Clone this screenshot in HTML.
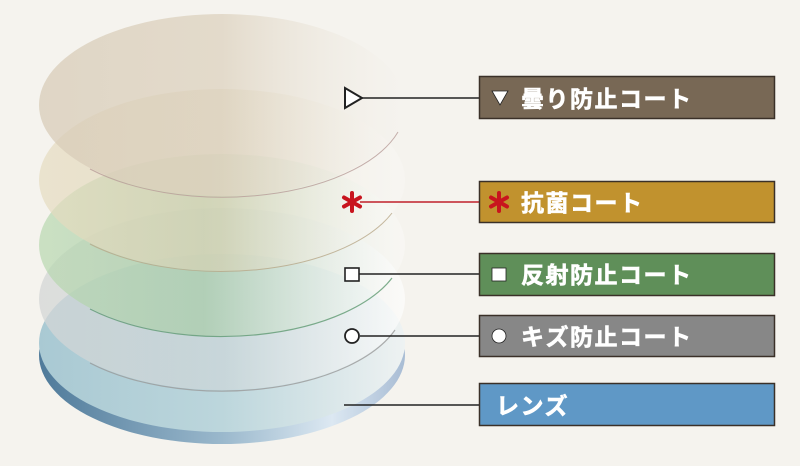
<!DOCTYPE html>
<html><head><meta charset="utf-8"><style>
html,body{margin:0;padding:0;background:#f5f3ee;}
svg{display:block}
text{font-family:"Liberation Sans","Noto Sans CJK JP",sans-serif;font-weight:bold;}
</style></head><body>
<svg width="800" height="466" viewBox="0 0 800 466" xmlns="http://www.w3.org/2000/svg">
<defs>
<linearGradient id="gBrown" x1="0" x2="1" y1="0" y2="0">
<stop offset="0" stop-color="#d8ccb8"/><stop offset="0.5" stop-color="#ddd2bf"/><stop offset="1" stop-color="#f5f3ee" stop-opacity="0.3"/></linearGradient>
<linearGradient id="gBeige" x1="0" x2="1">
<stop offset="0" stop-color="#e6dcc0" stop-opacity="0.7"/><stop offset="0.5" stop-color="#dcd2b4" stop-opacity="0.6"/><stop offset="1" stop-color="#ffffff" stop-opacity="0.2"/></linearGradient>
<linearGradient id="gGreen" x1="0" x2="1">
<stop offset="0" stop-color="#b8d8b0" stop-opacity="0.7"/><stop offset="0.45" stop-color="#a8cca8" stop-opacity="0.7"/><stop offset="1" stop-color="#ffffff" stop-opacity="0.3"/></linearGradient>
<linearGradient id="gGray" x1="0" x2="1">
<stop offset="0" stop-color="#d4d6d6" stop-opacity="0.75"/><stop offset="0.5" stop-color="#cfd6d8" stop-opacity="0.6"/><stop offset="1" stop-color="#ffffff" stop-opacity="0.6"/></linearGradient>
<linearGradient id="gLens" x1="0" x2="1">
<stop offset="0" stop-color="#a9c9d3"/><stop offset="0.5" stop-color="#bcd6dc"/><stop offset="1" stop-color="#eef2f2"/></linearGradient>
<linearGradient id="gSide" x1="0" x2="1">
<stop offset="0" stop-color="#4f7a9a"/><stop offset="0.5" stop-color="#9ab8cc"/><stop offset="0.8" stop-color="#dce8f2"/><stop offset="1" stop-color="#a8bcd4"/></linearGradient>
<g id="ast"><line x1="0" y1="-9" x2="0" y2="9"/><line x1="-8" y1="-4.5" x2="8" y2="4.5"/><line x1="-8" y1="4.5" x2="8" y2="-4.5"/></g>
</defs>
<rect width="800" height="466" fill="#f5f3ee"/>
<ellipse cx="222" cy="355" rx="183" ry="89" fill="url(#gSide)"/>
<ellipse cx="222" cy="343" rx="183" ry="89" fill="url(#gLens)"/>
<ellipse cx="222" cy="299" rx="183" ry="91" fill="url(#gGray)"/>
<path d="M 90 363 A 183 91 0 0 0 395 330" fill="none" stroke="#9a9a9a" stroke-width="1.2" opacity="0.8"/>
<ellipse cx="222" cy="245" rx="183" ry="91" fill="url(#gGreen)"/>
<path d="M 90 309 A 183 91 0 0 0 392 278" fill="none" stroke="#5f9a72" stroke-width="1.2" opacity="0.8"/>
<ellipse cx="222" cy="180" rx="183" ry="91" fill="url(#gBeige)"/>
<path d="M 90 244 A 183 91 0 0 0 392 213" fill="none" stroke="#b8a888" stroke-width="1" opacity="0.8"/>
<ellipse cx="222" cy="105" rx="183" ry="91" fill="url(#gBrown)" opacity="0.75"/>
<path d="M 90 169 A 183 91 0 0 0 398 132" fill="none" stroke="#b89c98" stroke-width="1" opacity="0.8"/>

<line x1="358" y1="98" x2="480" y2="98" stroke="#222" stroke-width="1.6"/>
<polygon points="345,88 345,108 362,98" fill="#fff" stroke="#222" stroke-width="2"/>
<line x1="360" y1="202" x2="480" y2="202" stroke="#c0202a" stroke-width="1.6"/>
<use href="#ast" x="352" y="202" stroke="#c8141e" stroke-width="4" stroke-linecap="round"/>
<line x1="358" y1="274" x2="480" y2="274" stroke="#222" stroke-width="1.6"/>
<rect x="345" y="268" width="14" height="13" fill="#fff" stroke="#222" stroke-width="1.6"/>
<line x1="360" y1="336" x2="480" y2="336" stroke="#222" stroke-width="1.6"/>
<circle cx="352" cy="336" r="7" fill="#fff" stroke="#222" stroke-width="1.8"/>
<line x1="344" y1="405" x2="480" y2="405" stroke="#222" stroke-width="1.6"/>

<rect x="479.5" y="76.5" width="295" height="42" fill="#786855" stroke="#3a3028" stroke-width="1.5"/>
<polygon points="492,91 508,91 500,105" fill="#fff" stroke="#222" stroke-width="0.8"/>
<text x="521" y="107" font-size="23" letter-spacing="1.5" fill="#fff" stroke="#fff" stroke-width="0.6">曇り防止コート</text>

<rect x="479.5" y="181.5" width="295" height="41" fill="#c1922e" stroke="#3a3028" stroke-width="1.5"/>
<use href="#ast" x="499" y="202" stroke="#c8141e" stroke-width="4" stroke-linecap="round"/>
<text x="521" y="211" font-size="23" letter-spacing="1.5" fill="#fff" stroke="#fff" stroke-width="0.6">抗菌コート</text>

<rect x="479.5" y="253.5" width="295" height="42" fill="#5f8f59" stroke="#3a3028" stroke-width="1.5"/>
<rect x="492" y="268" width="14" height="13" fill="#fff" stroke="#222" stroke-width="0.8"/>
<text x="521" y="283" font-size="23" letter-spacing="1.5" fill="#fff" stroke="#fff" stroke-width="0.6">反射防止コート</text>

<rect x="479.5" y="315.5" width="295" height="41" fill="#878787" stroke="#3a3028" stroke-width="1.5"/>
<circle cx="499" cy="336" r="7" fill="#fff" stroke="#222" stroke-width="0.8"/>
<text x="521" y="345" font-size="23" letter-spacing="1.5" fill="#fff" stroke="#fff" stroke-width="0.6">キズ防止コート</text>

<rect x="479.5" y="383.5" width="295" height="42" fill="#5f98c6" stroke="#3a3028" stroke-width="1.5"/>
<text x="496" y="414" font-size="23" letter-spacing="1.5" fill="#fff" stroke="#fff" stroke-width="0.6">レンズ</text>
</svg>
</body></html>
